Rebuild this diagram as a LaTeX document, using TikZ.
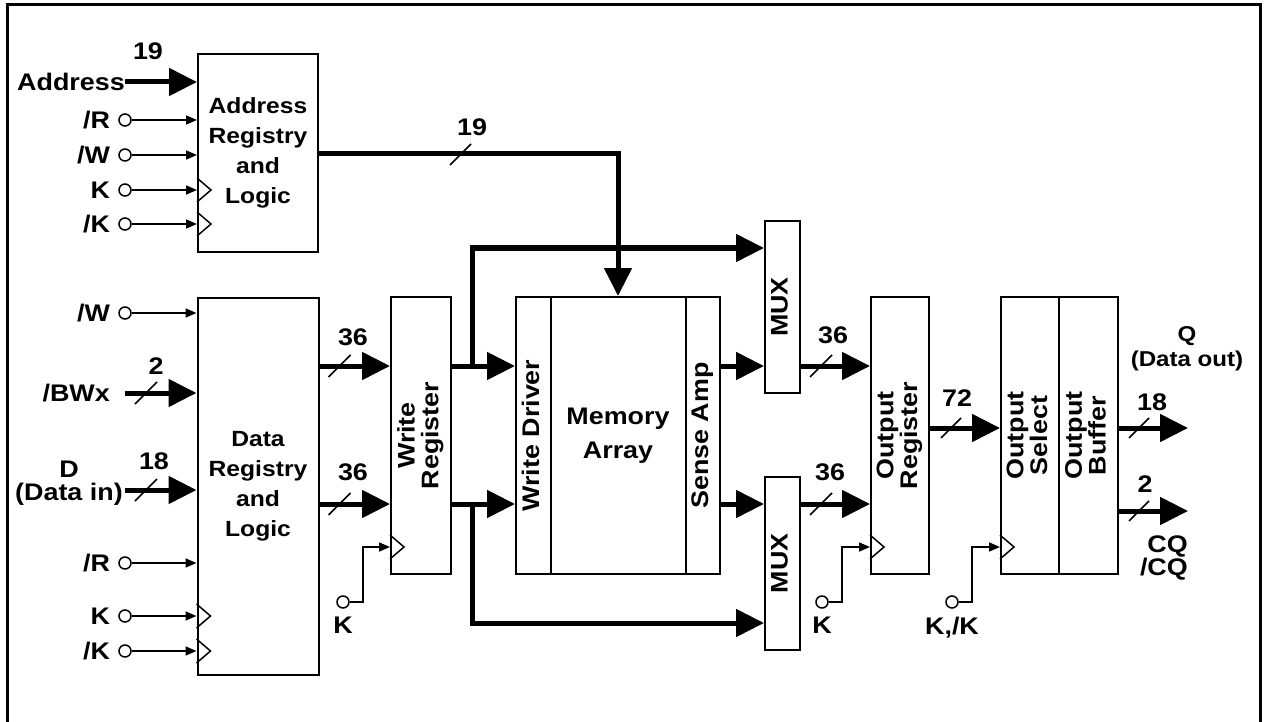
\documentclass[tikz,border=0pt]{standalone}
\usepackage{fontspec}
\setmainfont{Liberation Sans}[FakeStretch=1.12]
\usetikzlibrary{calc,positioning,arrows.meta}

\newcommand{\vtext}[1]{\rotatebox{90}{\fontsize{24}{21}\selectfont\begin{tabular}{@{}c@{}}#1\end{tabular}}}

\tikzset{
  blk/.style={draw,line width=2pt,inner sep=0pt,align=center},
  io/.style={circle,draw,line width=1.5pt,minimum size=12pt,inner sep=0pt},
  every label/.style={inner sep=0pt},
  sig/.style={line width=1.6pt,-{Triangle[length=11pt,width=9pt]}},
  bus/.style={line width=5pt,-{Triangle[length=28pt,width=27pt]}},
  busmark/.style={line width=1.5pt},
  clkmark/.style={line width=1.5pt},
  wd/.style={inner sep=0pt},
  tight/.style={inner sep=0pt,font=\fontsize{24}{23}\selectfont\bfseries},
}

\begin{document}
\begin{tikzpicture}[x=1pt,y=-1pt,font=\fontsize{24}{30}\selectfont\bfseries]
\useasboundingbox (0,0) rectangle (1269,722);
%frame
\draw[line width=3pt] (7,722) -- (7,5) -- (1260,5) -- (1260,722);

%levels
\coordinate (ya) at (0,366);
\coordinate (yb) at (0,504);
\coordinate (ym) at (0,428);
\coordinate (yq) at (0,511);
\coordinate (yc) at (0,547);
\coordinate (yt) at (0,248);
\coordinate (yu) at (0,623);
\coordinate (yad) at (0,154);

%blocks
\node[blk,minimum width=120pt,minimum height=198pt,font=\fontsize{22}{30}\selectfont\bfseries] (adr) at (258,153) {Address\\Registry\\and\\Logic};
\node[blk,minimum width=121pt,minimum height=377pt,font=\fontsize{22}{30}\selectfont\bfseries] (dat) at (258,486.5) {Data\\Registry\\and\\Logic};
\node[blk,minimum width=60pt,minimum height=277pt] (wreg) at (421,435.5) {\vtext{Write\\Register}};
\node[blk,minimum width=204pt,minimum height=277pt,font=\fontsize{24}{34}\selectfont\bfseries] (mem) at (618,435.5) {Memory\\Array};
\node[blk,minimum width=35pt,minimum height=277pt] (wdrv) at (533.5,435.5) {\vtext{Write Driver}};
\node[blk,minimum width=34pt,minimum height=277pt] (samp) at (703,435.5) {\vtext{Sense Amp}};
\node[blk,minimum width=35pt,minimum height=172pt] (muxa) at (782.5,307) {\vtext{MUX}};
\node[blk,minimum width=35pt,minimum height=173pt] (muxb) at (782.5,563.5) {\vtext{MUX}};
\node[blk,minimum width=58pt,minimum height=277pt] (oreg) at (900,435.5) {\vtext{Output\\Register}};
\node[blk,minimum width=58pt,minimum height=277pt] (osel) at (1030,435.5) {\vtext{Output\\Select}};
\node[blk,minimum width=59pt,minimum height=277pt] (obuf) at (1088.5,435.5) {\vtext{Output\\Buffer}};

%control pins
\foreach \nm/\yy/\tx in {aR/120/{/R},aW/155/{/W},aK/190/K,anK/224/{/K}}{
  \node[io,label={[xshift=-8pt]left:\tx}] (\nm) at (125,\yy) {};
  \draw[sig] (\nm) -- (adr.west |- \nm);
}
\foreach \nm/\yy/\tx in {dW/313/{/W},dR/563/{/R},dK/616/K,dnK/651/{/K}}{
  \node[io,label={[xshift=-8pt]left:\tx}] (\nm) at (125,\yy) {};
  \draw[sig] (\nm) -- (dat.west |- \nm);
}
\foreach \blk/\p in {adr/aK,adr/anK,dat/dK,dat/dnK}
  \draw[clkmark] ($(\blk.west |- \p)+(0,-12)$) -- ++(14,12) -- ++(-14,12);

%clocks
\node[io,label={[yshift=-8pt]below:K}] (wK) at (343,602) {};
\node[io,label={[yshift=-8pt]below:K}] (oK) at (822,602) {};
\node[io,label={[yshift=-8pt]below:{K,/K}}] (sK) at (952,602) {};
\foreach \p/\blk in {wK/wreg,oK/oreg,sK/osel}{
  \draw[sig] (\p) -- ++(20,0) |- (\blk.west |- yc);
  \draw[clkmark] ($(\blk.west |- yc)+(0,-12)$) -- ++(14,12) -- ++(-14,12);
}

%inputs
\coordinate (aIn) at (125,82);
\coordinate (bwIn) at (125,393);
\coordinate (dIn) at (125,490);
\node[wd,anchor=east] (tAdr) at (aIn) {Address};
\node[wd,anchor=east] (tBW) at (110,393) {/BWx};
\node[tight,align=center] (tD) at (69,483) {D\\(Data in)};
\draw[bus] (aIn) -- (adr.west |- aIn);
\draw[bus] (bwIn) -- (dat.west |- bwIn);
\draw[bus] (dIn) -- (dat.west |- dIn);
\draw[busmark] ($(bwIn)+(10,11)$) -- ++(22,-22);
\draw[busmark] ($(dIn)+(10,11)$) -- ++(22,-22);
\node[wd] (nAdr) at (148,51) {19};
\node[wd] (nBW) at (156,366) {2};
\node[wd] (nD) at (154,461) {18};

%address bus
\draw[bus] (adr.east |- yad) -| (mem.north);
\draw[busmark] (450,165) -- (471,144);
\node[wd] (nAbus) at (472,127) {19};

%data path
\draw[bus] (dat.east |- ya) -- (wreg.west |- ya);
\draw[bus] (dat.east |- yb) -- (wreg.west |- yb);
\draw[busmark] ($(dat.east |- ya)+(9,11)$) -- ++(22,-22);
\draw[busmark] ($(dat.east |- yb)+(9,11)$) -- ++(22,-22);
\node[wd] (nWa) at (353,337) {36};
\node[wd] (nWb) at (353,472) {36};

\draw[bus] (wreg.east |- ya) -- (wdrv.west |- ya);
\draw[bus] (wreg.east |- yb) -- (wdrv.west |- yb);
\coordinate (ja) at (472,366);
\coordinate (jb) at (472,504);
\draw[bus] (ja) |- (muxa.west |- yt);
\draw[bus] (jb) |- (muxb.west |- yu);

\draw[bus] (samp.east |- ya) -- (muxa.west |- ya);
\draw[bus] (samp.east |- yb) -- (muxb.west |- yb);
\draw[bus] (muxa.east |- ya) -- (oreg.west |- ya);
\draw[bus] (muxb.east |- yb) -- (oreg.west |- yb);
\draw[busmark] ($(muxa.east |- ya)+(9,11)$) -- ++(22,-22);
\draw[busmark] ($(muxb.east |- yb)+(9,11)$) -- ++(22,-22);
\node[wd] (nMa) at (833,335) {36};
\node[wd] (nMb) at (830,472) {36};

\draw[bus] (oreg.east |- ym) -- (osel.west |- ym);
\draw[busmark] ($(oreg.east |- ym)+(11,10)$) -- ++(20,-20);
\node[wd] (nO) at (957,398) {72};

%outputs
\coordinate (qEnd) at (1188,428);
\coordinate (cqEnd) at (1188,511);
\draw[bus] (obuf.east |- qEnd) -- (qEnd);
\draw[bus] (obuf.east |- cqEnd) -- (cqEnd);
\draw[busmark] ($(obuf.east |- qEnd)+(10,10)$) -- ++(20,-20);
\draw[busmark] ($(obuf.east |- cqEnd)+(10,10)$) -- ++(20,-20);
\node[wd] (nQ) at (1152,402) {18};
\node[wd] (nCQ) at (1145,484) {2};
\node[wd,align=center,font=\fontsize{21.5}{25}\selectfont\bfseries] (tQ) at (1187,349) {Q\\(Data out)};
\node[tight,align=right,anchor=east] (tCQ) at (1188,558) {CQ\\/CQ};
\end{tikzpicture}
\end{document}
